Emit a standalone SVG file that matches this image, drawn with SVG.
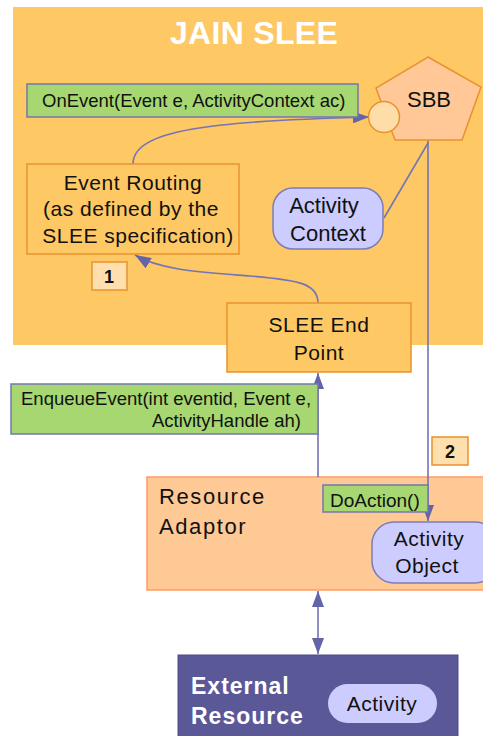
<svg xmlns="http://www.w3.org/2000/svg" width="483" height="736" viewBox="0 0 483 736">
  <style>
    text { font-family: "Liberation Sans", Arial, sans-serif; fill: #111; }
    .orange { fill: #FEC864; stroke: #E8922E; stroke-width: 1.5; }
    .label { fill: #A6D770; stroke: #7676B0; stroke-width: 1.5; }
    .ctx { fill: #CCCCFF; stroke: #7C7CB8; stroke-width: 1.5; }
    .num { fill: #FFDFAE; stroke: #E8922E; stroke-width: 1.5; }
    .conn { fill: none; stroke: #7474B6; stroke-width: 1.6; }
    .t18 { font-size: 18.5px; }
    .t21 { font-size: 21px; letter-spacing: 0.5px; }
    .mid { text-anchor: middle; }
    .bold { font-weight: bold; }
  </style>
  <defs>
    <marker id="arrow" markerUnits="userSpaceOnUse" markerWidth="16" markerHeight="12" refX="16" refY="6" orient="auto-start-reverse">
      <path d="M0,0 L16,6 L0,12 z" fill="#6464A8"/>
    </marker>
  </defs>

  <!-- JAIN SLEE container -->
  <g id="jain-slee">
    <rect x="13" y="7" width="475" height="338" fill="#FEC864"/>
    <text x="254" y="44" class="mid bold" font-size="32" letter-spacing="0.3" style="fill:#FFFFFF">JAIN SLEE</text>
  </g>

  <!-- Resource Adaptor -->
  <g id="resource-adaptor">
    <rect x="147" y="477" width="345" height="113" fill="#FFC996" stroke="#FF9A66" stroke-width="1.5"/>
    <text x="159" y="504" font-size="22" letter-spacing="1.6">Resource</text>
    <text x="159" y="534" font-size="22" letter-spacing="1.6">Adaptor</text>
  </g>

  <!-- External Resource -->
  <g id="external-resource">
    <rect x="178" y="655" width="280" height="90" fill="#5B5898" stroke="#4E4B8A" stroke-width="1"/>
    <text x="191" y="694" font-size="23" class="bold" letter-spacing="1" style="fill:#FFFFFF">External</text>
    <text x="191" y="724" font-size="23" class="bold" letter-spacing="1" style="fill:#FFFFFF">Resource</text>
  </g>

  <g id="activity">
    <rect x="328" y="684" width="109" height="39" rx="19.5" ry="19.5" fill="#CCCCFF"/>
    <text x="382" y="711" class="t21 mid">Activity</text>
  </g>

  <!-- Connectors -->
  <g id="connectors">
    <path class="conn" d="M133,164 C133,130 210,121 369,117" marker-end="url(#arrow)"/>
    <path class="conn" d="M428,143 L384,218"/>
    <path class="conn" d="M428,140 L428,521" marker-end="url(#arrow)"/>
    <path class="conn" d="M318,303 C318,284 300,280 250,276 C200,272 160,270 135,255" marker-end="url(#arrow)"/>
    <path class="conn" d="M318,477 L318,373" marker-end="url(#arrow)"/>
    <path class="conn" d="M318,591 L318,654" marker-start="url(#arrow)" marker-end="url(#arrow)"/>
  </g>

  <g id="onevent-label">
    <rect x="27" y="84" width="331" height="33" class="label"/>
    <text x="42" y="107" class="t18">OnEvent(Event e, ActivityContext ac)</text>
  </g>

  <g id="sbb">
    <polygon points="428,57 481,87 462,140 395,140 376,88" fill="#FFC896" stroke="#E8922E" stroke-width="1.5"/>
    <text x="429" y="107" font-size="22" class="mid">SBB</text>
    <circle cx="384" cy="117" r="15.5" fill="#FFDDA8" stroke="#E8922E" stroke-width="1.5"/>
  </g>

  <g id="event-routing">
    <rect x="27" y="164" width="212" height="90" class="orange"/>
    <text x="133" y="190" class="t21 mid">Event Routing</text>
    <text x="131" y="216" class="t21 mid">(as defined by the</text>
    <text x="138" y="243" class="t21 mid">SLEE specification)</text>
  </g>

  <g id="activity-context">
    <rect x="273" y="188" width="110" height="61" rx="20" ry="20" class="ctx"/>
    <text x="324" y="213" font-size="22" class="mid">Activity</text>
    <text x="328" y="241" font-size="22" class="mid">Context</text>
  </g>

  <g id="step-1">
    <rect x="92" y="262" width="35" height="28" class="num"/>
    <text x="109" y="283" font-size="18" class="mid bold">1</text>
  </g>

  <g id="slee-end-point">
    <rect x="227" y="303" width="184" height="69" class="orange"/>
    <text x="319" y="332" class="t21 mid">SLEE End</text>
    <text x="319" y="360" class="t21 mid">Point</text>
  </g>

  <g id="enqueue-label">
    <rect x="11" y="384" width="307" height="50" class="label"/>
    <text x="21" y="405" class="t18">EnqueueEvent(int eventid, Event e,</text>
    <text x="301" y="427" class="t18" text-anchor="end">ActivityHandle ah)</text>
  </g>

  <g id="step-2">
    <rect x="432" y="437" width="36" height="28" class="num"/>
    <text x="450" y="458" font-size="18" class="mid bold">2</text>
  </g>

  <g id="doaction-label">
    <rect x="323" y="485" width="105" height="27" class="label"/>
    <text x="330" y="507" font-size="19">DoAction()</text>
  </g>

  <g id="activity-object">
    <rect x="372" y="522" width="125" height="61" rx="22" ry="22" class="ctx"/>
    <text x="429" y="546" class="t21 mid">Activity</text>
    <text x="427" y="573" class="t21 mid">Object</text>
  </g>
</svg>
